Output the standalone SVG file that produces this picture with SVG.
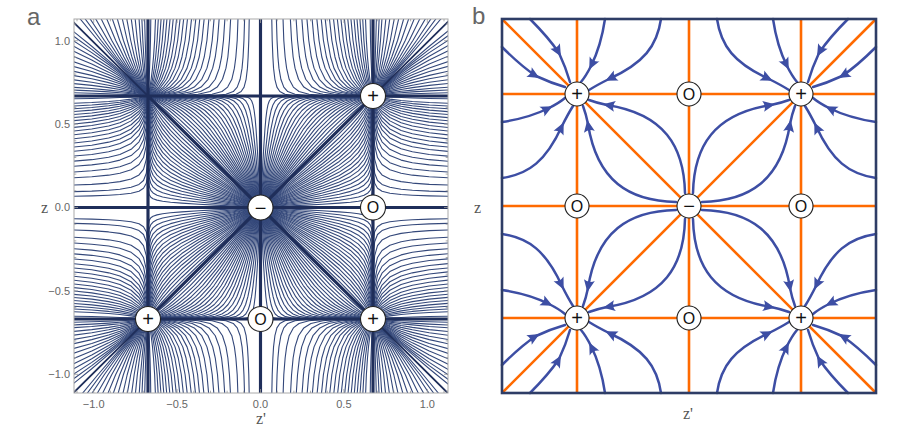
<svg xmlns="http://www.w3.org/2000/svg" xmlns:xlink="http://www.w3.org/1999/xlink" width="906" height="426" viewBox="0 0 906 426">
<style>
.lbl{font-family:"Liberation Sans",Arial,sans-serif;fill:#666}
.tick{font-family:"Liberation Sans",Arial,sans-serif;font-size:11px;fill:#666}
.ax{font-family:"Liberation Serif","Times New Roman",serif;font-size:16px;fill:#555}
.nd circle{fill:#fff;stroke:#222;stroke-width:1.1}
.nd text{font-family:"Liberation Sans",Arial,sans-serif;fill:#111;text-anchor:middle}
.pl{font-size:20px}
.oo{font-size:16px}
.orange{stroke:#ff6a00;stroke-width:2.6;fill:none}
</style>
<defs>
<clipPath id="clipA"><rect x="74" y="19" width="374" height="374"/></clipPath>
<marker id="ar" markerUnits="userSpaceOnUse" markerWidth="16" markerHeight="14" viewBox="-10 -7 16 14" refX="0" refY="0" orient="auto">
<path d="M4,0 L-8,-5.5 Q-4.5,0 -8,5.5 Z" fill="#3d4ea4" stroke="none"/>
</marker>
<g id="cellA">
<path d="M0,0L.2,.0105 .4,.0211 .55,.0295 .7,.0393 .8,.0478 .87,.0564 .92,.0661 .955,.0781 .975,.0917 .99,.1164 .997,.158 .9995,.247 1,.437 1,.723 1,1"/>
<path d="M0,0L.2,.0176 .4,.0353 .55,.0494 .7,.0657 .8,.08 .87,.0943 .92,.1105 .955,.1306 .975,.1533 .99,.1945 .997,.2634 .9995,.406 1,.646 1,1"/>
<path d="M0,0L.2,.0246 .4,.0494 .55,.0692 .7,.0921 .8,.1121 .87,.1322 .92,.1548 .955,.1831 .975,.2148 .99,.2725 .997,.3687 .9995,.565 1,.854 1,1"/>
<path d="M0,0L.2,.0318 .4,.0639 .55,.0894 .7,.1189 .8,.1448 .87,.1707 .92,.1999 .955,.2363 .975,.277 .99,.3504 .997,.4695 .9995,.684 1,.911 1,1"/>
<path d="M0,0L.2,.0389 .4,.0783 .55,.1095 .7,.1457 .8,.1774 .87,.2091 .92,.2449 .955,.2894 .975,.3391 .99,.4283 .997,.5702 .9995,.8032 1,.9678 1,1"/>
<path d="M0,0L.2,.0463 .4,.0931 .55,.1302 .7,.1733 .8,.2109 .87,.2485 .92,.2908 .955,.3432 .975,.4013 .99,.5032 .997,.6548 .9995,.8622 1,1"/>
<path d="M0,0L.2,.0536 .4,.1079 .55,.1509 .7,.2008 .8,.2443 .87,.2878 .92,.3367 .955,.397 .975,.4634 .99,.578 .997,.7394 .9995,.9211 1,1"/>
<path d="M0,0L.2,.0613 .4,.1233 .55,.1724 .7,.2294 .8,.2789 .87,.3283 .92,.3835 .955,.451 .975,.5238 .99,.6444 .997,.7979 .9995,.9442 1,1"/>
<path d="M0,0L.2,.0689 .4,.1386 .55,.1939 .7,.2579 .8,.3135 .87,.3688 .92,.4303 .955,.5049 .975,.5842 .99,.7107 .997,.8563 .9995,.9672 1,1"/>
<path d="M0,0L.2,.0769 .4,.1548 .55,.2165 .7,.2877 .8,.3494 .87,.4104 .92,.4775 .955,.5574 .975,.6397 .99,.763 .997,.8902 .9995,.9762 1,1"/>
<path d="M0,0L.2,.0849 .4,.1709 .55,.239 .7,.3175 .8,.3853 .87,.452 .92,.5247 .955,.6099 .975,.6952 .99,.8153 .997,.924 .9995,.9851 1,1"/>
<path d="M0,0L.2,.0934 .4,.188 .55,.2628 .7,.3488 .8,.4225 .87,.4943 .92,.5712 .955,.6585 .975,.7421 .99,.8516 .997,.9418 1,1"/>
<path d="M0,0L.2,.1019 .4,.205 .55,.2865 .7,.38 .8,.4597 .87,.5366 .92,.6176 .955,.7071 .975,.7889 .99,.8879 .997,.9596 1,1"/>
<path d="M0,0L.2,.1111 .4,.2234 .55,.312 .7,.413 .8,.4982 .87,.5789 .92,.6616 .955,.7492 .975,.8251 .99,.9109 .997,.9689 1,1"/>
<path d="M0,0L.2,.1202 .4,.2417 .55,.3374 .7,.446 .8,.5367 .87,.6211 .92,.7055 .955,.7913 .975,.8613 .99,.9339 .997,.9781 1,1"/>
<path d="M0,0L.2,.1302 .4,.2616 .55,.3648 .7,.4807 .8,.5758 .87,.6619 .92,.7448 .955,.8249 .975,.8868 .99,.9477 1,1"/>
<path d="M0,0L.2,.1401 .4,.2815 .55,.3921 .7,.5154 .8,.6149 .87,.7027 .92,.784 .955,.8584 .975,.9123 .99,.9614 1,1"/>
<path d="M0,0L.2,.1511 .4,.3033 .55,.4218 .7,.5518 .8,.6537 .87,.7402 .92,.8168 .955,.8833 .975,.9293 .99,.9695 1,1"/>
<path d="M0,0L.2,.162 .4,.3251 .55,.4514 .7,.5881 .8,.6924 .87,.7777 .92,.8495 .955,.9081 .975,.9462 .99,.9775 1,1"/>
<path d="M0,0L.2,.1743 .4,.3494 .55,.4836 .7,.6254 .8,.7292 .87,.8101 .92,.8748 .955,.9253 .975,.9569 .99,.9822 1,1"/>
<path d="M0,0L.2,.1865 .4,.3736 .55,.5158 .7,.6627 .8,.7659 .87,.8424 .92,.9001 .955,.9425 .975,.9676 .99,.9869 1,1"/>
</g>
<g id="cellB">
<path d="M1.7,1.030L1.5,1.025 1.35,1.020 1.25,1.016 1.15,1.011 1.08,1.006 1.04,1.003 1,1"/>
<path d="M1.7,1.055L1.5,1.046 1.35,1.037 1.25,1.029 1.15,1.020 1.08,1.011 1.04,1.006 1,1"/>
<path d="M1.7,1.080L1.5,1.067 1.35,1.053 1.25,1.042 1.15,1.028 1.08,1.016 1.04,1.008 1.015,1.003 1,1"/>
<path d="M1.7,1.115L1.5,1.095 1.35,1.075 1.25,1.059 1.15,1.039 1.08,1.022 1.04,1.011 1.015,1.005 1,1"/>
<path d="M1.7,1.150L1.5,1.123 1.35,1.097 1.25,1.075 1.15,1.049 1.08,1.028 1.04,1.014 1.015,1.006 1,1"/>
<path d="M1.7,1.190L1.5,1.154 1.35,1.120 1.25,1.092 1.15,1.060 1.08,1.034 1.04,1.017 1.015,1.007 1,1"/>
<path d="M1.7,1.230L1.5,1.185 1.35,1.143 1.25,1.109 1.15,1.070 1.08,1.039 1.04,1.020 1.015,1.008 1,1"/>
<path d="M1.7,1.275L1.5,1.219 1.35,1.167 1.25,1.126 1.15,1.080 1.08,1.045 1.04,1.023 1.015,1.009 1,1"/>
<path d="M1.7,1.320L1.5,1.252 1.35,1.190 1.25,1.143 1.15,1.090 1.08,1.050 1.04,1.026 1.015,1.010 1,1"/>
<path d="M1.7,1.370L1.5,1.288 1.35,1.214 1.25,1.160 1.15,1.100 1.08,1.055 1.04,1.028 1.015,1.011 1,1"/>
<path d="M1.7,1.420L1.5,1.323 1.35,1.238 1.25,1.177 1.15,1.110 1.08,1.060 1.04,1.030 1.015,1.012 1,1"/>
<path d="M1.7,1.470L1.5,1.356 1.35,1.260 1.25,1.192 1.15,1.118 1.08,1.064 1.04,1.032 1.015,1.013 1,1"/>
<path d="M1.7,1.520L1.5,1.389 1.35,1.282 1.25,1.206 1.15,1.126 1.08,1.068 1.04,1.034 1.015,1.013 1,1"/>
<path d="M1.7,1.565L1.5,1.418 1.35,1.300 1.25,1.218 1.15,1.133 1.08,1.072 1.04,1.036 1.015,1.014 1,1"/>
<path d="M1.7,1.610L1.5,1.446 1.35,1.318 1.25,1.229 1.15,1.139 1.08,1.075 1.04,1.037 1.015,1.014 1,1"/>
</g>
<g id="cellC">
<path d="M.1,1.7L.104,1.5 .110,1.35 .116,1.25 .128,1.15 .146,1.08 .172,1.04 .217,1.015 .285,1.005 .422,1.001 .612,1.0002 .888,1 1,1"/>
<path d="M.141,1.7L.147,1.5 .155,1.35 .164,1.25 .181,1.15 .207,1.08 .242,1.04 .307,1.015 .401,1.005 .583,1.001 .793,1.0002 .965,1 1,1"/>
<path d="M.2,1.7L.207,1.5 .219,1.35 .232,1.25 .255,1.15 .292,1.08 .342,1.04 .431,1.015 .556,1.005 .766,1.001 .922,1 1,1"/>
<path d="M.265,1.7L.276,1.5 .290,1.35 .307,1.25 .338,1.15 .385,1.08 .448,1.04 .555,1.015 .686,1.005 .856,1.001 .954,1 1,1"/>
<path d="M.316,1.7L.329,1.5 .346,1.35 .366,1.25 .402,1.15 .458,1.08 .533,1.04 .655,1.015 .795,1.005 .936,1.001 .985,1 1,1"/>
<path d="M.367,1.7L.382,1.5 .402,1.35 .425,1.25 .466,1.15 .528,1.08 .607,1.04 .729,1.015 .850,1.005 .956,1.001 1,1"/>
<path d="M.412,1.7L.429,1.5 .451,1.35 .476,1.25 .522,1.15 .589,1.08 .673,1.04 .795,1.015 .902,1.005 .976,1.001 1,1"/>
<path d="M.458,1.7L.476,1.5 .5,1.35 .527,1.25 .575,1.15 .645,1.08 .727,1.04 .838,1.015 .927,1.005 .982,1.001 1,1"/>
<path d="M.5,1.7L.520,1.5 .545,1.35 .574,1.25 .624,1.15 .696,1.08 .778,1.04 .879,1.015 .950,1.005 .989,1.001 1,1"/>
<path d="M.539,1.7L.559,1.5 .586,1.35 .615,1.25 .666,1.15 .736,1.08 .813,1.04 .902,1.015 .961,1.005 .991,1.001 1,1"/>
<path d="M.574,1.7L.596,1.5 .623,1.35 .653,1.25 .705,1.15 .774,1.08 .847,1.04 .925,1.015 .971,1.005 .994,1.001 1,1"/>
<path d="M.612,1.7L.634,1.5 .662,1.35 .691,1.25 .742,1.15 .807,1.08 .873,1.04 .939,1.015 .977,1.005 .995,1.001 1,1"/>
<path d="M.648,1.7L.670,1.5 .698,1.35 .727,1.25 .777,1.15 .839,1.08 .898,1.04 .953,1.015 .983,1.005 .996,1.001 1,1"/>
<path d="M.682,1.7L.704,1.5 .731,1.35 .760,1.25 .807,1.15 .863,1.08 .915,1.04 .962,1.015 .986,1.005 1,1"/>
<path d="M.714,1.7L.736,1.5 .762,1.35 .790,1.25 .835,1.15 .887,1.08 .932,1.04 .971,1.015 .989,1.005 1,1"/>
<path d="M.745,1.7L.766,1.5 .791,1.35 .817,1.25 .858,1.15 .904,1.08 .943,1.04 .976,1.015 .991,1.005 1,1"/>
<path d="M.775,1.7L.794,1.5 .819,1.35 .843,1.25 .881,1.15 .921,1.08 .954,1.04 .981,1.015 .993,1.005 1,1"/>
<path d="M.803,1.7L.822,1.5 .844,1.35 .866,1.25 .899,1.15 .935,1.08 .963,1.04 .984,1.015 .995,1.005 1,1"/>
<path d="M.831,1.7L.848,1.5 .868,1.35 .888,1.25 .918,1.15 .948,1.08 .971,1.04 .988,1.015 .996,1.005 1,1"/>
<path d="M.857,1.7L.873,1.5 .891,1.35 .908,1.25 .933,1.15 .958,1.08 .977,1.04 .990,1.015 .997,1.005 1,1"/>
<path d="M.883,1.7L.897,1.5 .912,1.35 .927,1.25 .948,1.15 .967,1.08 .982,1.04 .993,1.015 .997,1.005 1,1"/>
<path d="M.908,1.7L.919,1.5 .932,1.35 .944,1.25 .960,1.15 .976,1.08 .987,1.04 .995,1.015 1,1"/>
<path d="M.933,1.7L.941,1.5 .951,1.35 .960,1.25 .972,1.15 .983,1.08 .991,1.04 .996,1.015 1,1"/>
<path d="M.975,1.7L.978,1.5 .982,1.35 .986,1.25 .990,1.15 .994,1.08 .997,1.04 1,1"/>
</g>
<g id="quad">
<use href="#cellA"/><use href="#cellA" transform="matrix(0,1,1,0,0,0)"/>
<use href="#cellB"/><use href="#cellB" transform="matrix(0,1,1,0,0,0)"/>
<use href="#cellC"/><use href="#cellC" transform="matrix(0,1,1,0,0,0)"/>
</g>
<g id="ticksL" stroke="#999" stroke-width="0.8">
<path d="M74,40.7h4M74,124.1h4M74,207.5h4M74,290.9h4M74,374.3h4"/>
<path d="M74,24h2.3M74,57.4h2.3M74,74.1h2.3M74,90.7h2.3M74,107.4h2.3M74,140.8h2.3M74,157.5h2.3M74,174.1h2.3M74,190.8h2.3M74,224.2h2.3M74,240.9h2.3M74,257.5h2.3M74,274.2h2.3M74,307.6h2.3M74,324.3h2.3M74,340.9h2.3M74,357.6h2.3M74,391h2.3"/>
</g>
<g id="ticksB" stroke="#999" stroke-width="0.8">
<path d="M93.7,393v-4M177.1,393v-4M260.5,393v-4M343.9,393v-4M427.3,393v-4"/>
<path d="M77,393v-2.3M110.4,393v-2.3M127.1,393v-2.3M143.7,393v-2.3M160.4,393v-2.3M193.8,393v-2.3M210.5,393v-2.3M227.1,393v-2.3M243.8,393v-2.3M277.2,393v-2.3M293.9,393v-2.3M310.5,393v-2.3M327.2,393v-2.3M360.6,393v-2.3M377.3,393v-2.3M393.9,393v-2.3M410.6,393v-2.3M444,393v-2.3"/>
</g>
<g id="octant" fill="none" stroke="#3d4ea4" stroke-width="2.5" stroke-linecap="round" marker-mid="url(#ar)">
<path d="M-159,-187 Q-140,-168 -130,-153 Q-123,-138 -119,-124"/>
<path d="M-187,-159 Q-168,-140 -153,-130 Q-138,-123 -124,-119"/>
<path d="M-187,-84 Q-160,-88 -140,-98 Q-130,-103 -124,-108"/>
<path d="M-84,-187 Q-88,-160 -98,-140 Q-103,-130 -108,-124"/>
<path d="M-28,-187 C-32,-160 -45,-143 -80,-127 Q-92,-121 -100,-116"/>
<path d="M-187,-28 C-160,-32 -143,-45 -127,-80 Q-121,-92 -116,-100"/>
<path d="M-4,-13 C-5,-60 -25,-92 -82,-101 Q-92,-103 -100,-106"/>
<path d="M-13,-4 C-60,-5 -92,-25 -101,-82 Q-103,-92 -106,-100"/>
</g>
</defs>
<rect width="906" height="426" fill="#fff"/>

<!-- Panel a -->
<text class="lbl" x="27" y="25" font-size="24">a</text>
<g id="panelA-streamlines" clip-path="url(#clipA)">
<g transform="matrix(112.5,0,0,-111.5,260.5,207.5)" fill="none" stroke="#34487a" stroke-width="0.0098" stroke-linejoin="round">
<use href="#quad"/>
<use href="#quad" transform="scale(-1,1)"/>
<use href="#quad" transform="scale(1,-1)"/>
<use href="#quad" transform="scale(-1,-1)"/>
<path d="M-1.7,-1.7L1.7,1.7M-1.7,1.7L1.7,-1.7" stroke="#1f2e5a" stroke-width="0.016"/>
<path d="M-1,-1L1,1M-1,1L1,-1M-1,-1.7V1.7M0,-1.7V1.7M1,-1.7V1.7M-1.7,-1H1.7M-1.7,0H1.7M-1.7,1H1.7" stroke="#1f2e5a" stroke-width="0.028"/>
</g>
</g>
<rect x="74" y="19" width="374" height="374" fill="none" stroke="#aaa" stroke-width="1"/>
<g id="axes-a">
<use href="#ticksL"/>
<use href="#ticksL" transform="translate(522,0) scale(-1,1)"/>
<use href="#ticksB"/>
<use href="#ticksB" transform="translate(0,412) scale(1,-1)"/>
<g class="tick" text-anchor="end">
<text x="70" y="44.5">1.0</text>
<text x="70" y="127.9">0.5</text>
<text x="70" y="211.3">0.0</text>
<text x="70" y="294.7">−0.5</text>
<text x="70" y="378.1">−1.0</text>
</g>
<g class="tick" text-anchor="middle">
<text x="93.7" y="408">−1.0</text>
<text x="177.1" y="408">−0.5</text>
<text x="260.5" y="408">0.0</text>
<text x="343.9" y="408">0.5</text>
<text x="427.3" y="408">1.0</text>
</g>
<text class="ax" x="41" y="213">z</text>
<text class="ax" x="256" y="424" font-size="15">z'</text>
</g>
<g id="a-plus-tr" class="nd"><circle cx="373" cy="96" r="12.5"/><text class="pl" x="373" y="103">+</text></g>
<g id="a-plus-bl" class="nd"><circle cx="148" cy="319" r="12.5"/><text class="pl" x="148" y="326">+</text></g>
<g id="a-plus-br" class="nd"><circle cx="373" cy="319" r="12.5"/><text class="pl" x="373" y="326">+</text></g>
<g id="a-minus" class="nd"><circle cx="260.5" cy="207.5" r="12.5"/><text class="pl" x="260.5" y="214.5">−</text></g>
<g id="a-o-r" class="nd"><circle cx="373" cy="207.5" r="12.5"/><text class="oo" x="373" y="213.3">O</text></g>
<g id="a-o-b" class="nd"><circle cx="260.5" cy="319" r="12.5"/><text class="oo" x="260.5" y="324.8">O</text></g>

<!-- Panel b -->
<text class="lbl" x="472" y="24" font-size="24">b</text>
<g id="panelB-orange" class="orange">
<path d="M577,19V393M689,19V393M801,19V393M502,94H876M502,206H876M502,318H876M502,19L876,393M876,19L502,393"/>
</g>
<g id="panelB-flow">
<use href="#octant" transform="translate(689,206)"/>
<use href="#octant" transform="translate(689,206) scale(-1,1)"/>
<use href="#octant" transform="translate(689,206) scale(1,-1)"/>
<use href="#octant" transform="translate(689,206) scale(-1,-1)"/>
</g>
<rect x="502" y="19" width="374" height="374" fill="none" stroke="#2e3d66" stroke-width="2.6"/>
<text class="ax" x="474" y="213">z</text>
<text class="ax" x="683" y="419">z'</text>
<g id="b-plus-tl" class="nd"><circle cx="577" cy="94" r="12"/><text class="pl" x="577" y="101">+</text></g>
<g id="b-plus-tr" class="nd"><circle cx="801" cy="94" r="12"/><text class="pl" x="801" y="101">+</text></g>
<g id="b-plus-bl" class="nd"><circle cx="577" cy="318" r="12"/><text class="pl" x="577" y="325">+</text></g>
<g id="b-plus-br" class="nd"><circle cx="801" cy="318" r="12"/><text class="pl" x="801" y="325">+</text></g>
<g id="b-minus" class="nd"><circle cx="689" cy="206" r="12"/><text class="pl" x="689" y="213">−</text></g>
<g id="b-o-t" class="nd"><circle cx="689" cy="94" r="12"/><text class="oo" x="689" y="99.8">O</text></g>
<g id="b-o-l" class="nd"><circle cx="577" cy="206" r="12"/><text class="oo" x="577" y="211.8">O</text></g>
<g id="b-o-r" class="nd"><circle cx="801" cy="206" r="12"/><text class="oo" x="801" y="211.8">O</text></g>
<g id="b-o-b" class="nd"><circle cx="689" cy="318" r="12"/><text class="oo" x="689" y="323.8">O</text></g>
</svg>
